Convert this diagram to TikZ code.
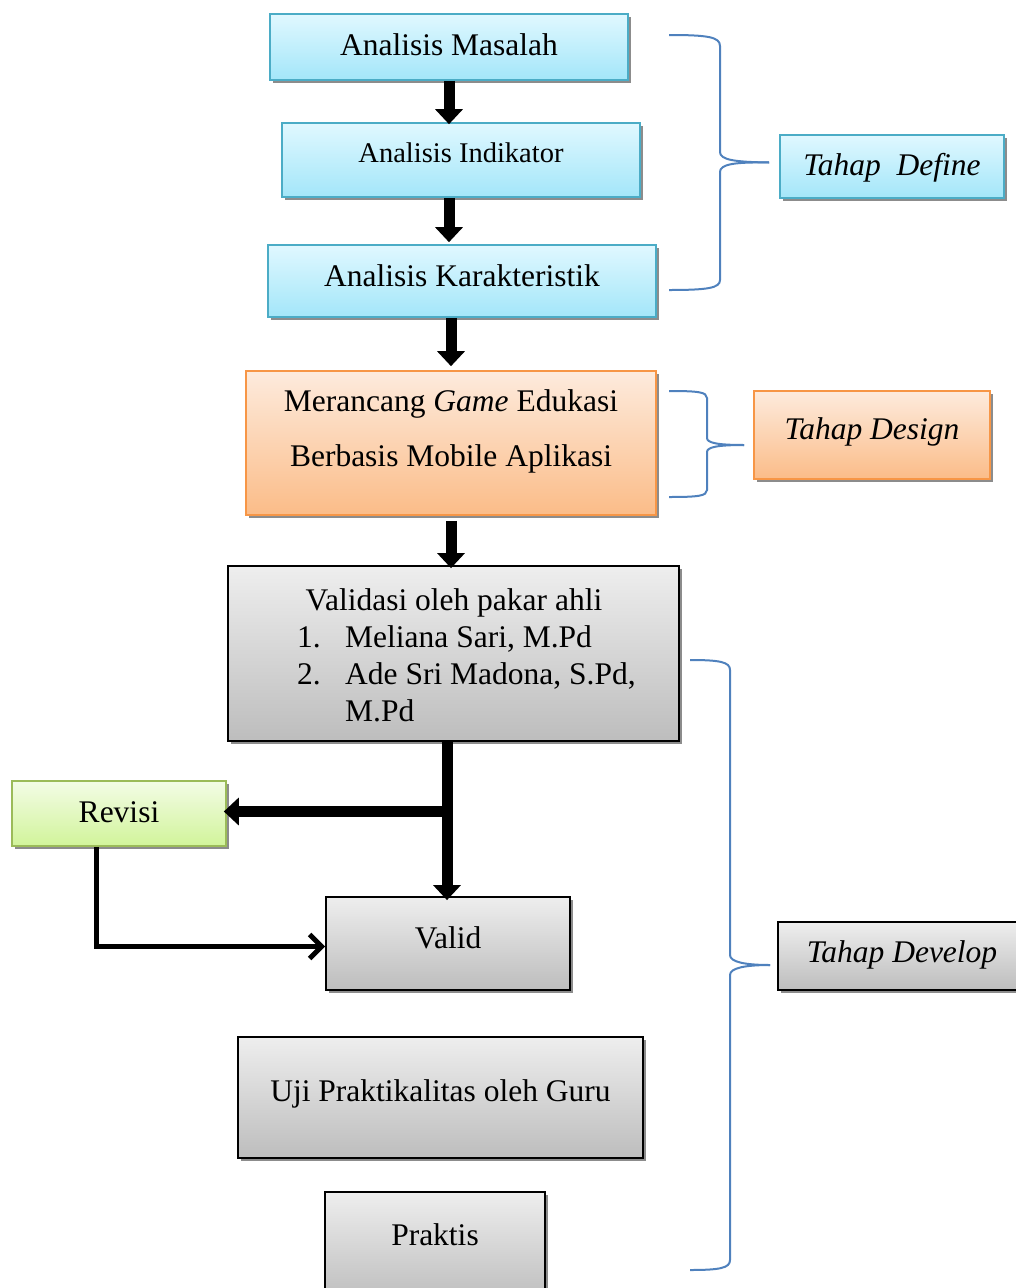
\documentclass[tikz,border=0pt]{standalone}
\usepackage{fontspec}
\setmainfont{Liberation Serif}
\usetikzlibrary{arrows.meta,shadows,calc}
\definecolor{cyantop}{HTML}{E0F8FF}
\definecolor{cyanbot}{HTML}{A3E6F9}
\definecolor{cyanb}{HTML}{4BACC6}
\definecolor{orgtop}{HTML}{FDEBDD}
\definecolor{orgbot}{HTML}{FBBC88}
\definecolor{orgb}{HTML}{F79646}
\definecolor{grntop}{HTML}{F3FCE6}
\definecolor{grnbot}{HTML}{D1F49A}
\definecolor{grnb}{HTML}{9BBB59}
\definecolor{grytop}{HTML}{EEEEEE}
\definecolor{grybot}{HTML}{BDBDBD}
\definecolor{bracec}{HTML}{4F81BD}
\tikzset{
  boxbase/.style={rectangle, inner sep=0pt, line width=1.6pt,
    drop shadow={shadow xshift=2.5pt, shadow yshift=-3pt, fill=black!45, opacity=1}},
  cbox/.style={boxbase, draw=cyanb, top color=cyantop, bottom color=cyanbot},
  obox/.style={boxbase, draw=orgb, top color=orgtop, bottom color=orgbot},
  gbox/.style={boxbase, draw=grnb, top color=grntop, bottom color=grnbot},
  ybox/.style={boxbase, draw=black, line width=1.8pt, top color=grytop, bottom color=grybot},
  txt/.style={anchor=base, inner sep=0pt, font=\fontsize{31.5}{38}\selectfont},
  bigarrow/.style={line width=11pt, -{Triangle[width=27pt,length=15pt]}},
  thinarrow/.style={line width=5pt, -{Straight Barb[width=24pt,length=12pt,line width=5pt]}},
  bracestyle/.style={draw=bracec, line width=2pt}
}
\begin{document}
\begin{tikzpicture}[x=1pt,y=-1pt]
\useasboundingbox (0,0) rectangle (1016,1288);
% main boxes
\node[cbox, minimum width=358pt, minimum height=66pt] (am) at (449,47) {};
\node[txt] (amt) at (449,55) {Analisis Masalah};
\node[cbox, minimum width=358pt, minimum height=74pt] (ai) at (461,160) {};
\node[txt, font=\fontsize{28.5}{34}\selectfont] (ait) at (461,162) {Analisis Indikator};
\node[cbox, minimum width=388pt, minimum height=72pt] (ak) at (462,281) {};
\node[txt] (akt) at (462,286) {Analisis Karakteristik};
\node[obox, minimum width=410pt, minimum height=144pt] (mg) at (451,443) {};
\node[txt] (mgt1) at (451,411) {Merancang \textit{Game} Edukasi};
\node[txt] (mgt2) at (451,466) {Berbasis Mobile Aplikasi};
\node[ybox, minimum width=451pt, minimum height=175pt] (vp) at (453.5,653.5) {};
\node[txt] (vpt) at (454,610) {Validasi oleh pakar ahli};
\node[txt, anchor=base west] (vpn1) at (297,647) {1.};
\node[txt, anchor=base west] (vpl1) at (345,647) {Meliana Sari, M.Pd};
\node[txt, anchor=base west] (vpn2) at (297,684) {2.};
\node[txt, anchor=base west] (vpl2) at (345,684) {Ade Sri Madona, S.Pd,};
\node[txt, anchor=base west] (vpl3) at (345,721) {M.Pd};
\node[gbox, minimum width=214pt, minimum height=65pt] (rv) at (119,813.5) {};
\node[txt] (rvt) at (119,822) {Revisi};
\node[ybox, minimum width=244pt, minimum height=93pt] (vd) at (448,943.5) {};
\node[txt] (vdt) at (448,948) {Valid};
\node[ybox, minimum width=405pt, minimum height=121pt] (uj) at (440.5,1097.5) {};
\node[txt] (ujt) at (440.5,1101) {Uji Praktikalitas oleh Guru};
\node[ybox, minimum width=220pt, minimum height=110pt] (pk) at (435,1247) {};
\node[txt] (pkt) at (435,1245) {Praktis};
% stage boxes
\node[cbox, minimum width=224pt, minimum height=63pt] (td) at (892,166.5) {};
\node[txt] (tdt) at (892,175) {\textit{Tahap\ \ Define}};
\node[obox, minimum width=236pt, minimum height=88pt] (tg) at (872,435) {};
\node[txt] (tgt) at (872,439) {\textit{Tahap Design}};
\node[ybox, minimum width=252pt, minimum height=68pt] (tv) at (904,956) {};
\node[txt] (tvt) at (902,962) {\textit{Tahap Develop}};
% arrows
\draw[bigarrow] (am.south) -- ($(am.south |- ai.north)+(0,2)$);
\draw[bigarrow] (am.south |- ai.south) -- ($(am.south |- ak.north)+(0,-2)$);
\draw[bigarrow] (mg.north |- ak.south) -- ($(mg.north)+(0,-4)$);
\draw[bigarrow] ($(mg.south)+(0,5)$) -- ($(mg.south |- vp.north)+(0,3)$);
\coordinate (vpout) at ($(vd.north |- vp.south)+(-1,0)$);
\draw[bigarrow] (vpout) -- ($(vpout |- vd.north)+(0,4)$);
\coordinate (junc) at ($(vpout |- rv.east)+(5,-2)$);
\draw[bigarrow] (junc) -- ($(rv.east)+(-3,-2)$);
\coordinate (rvout) at ($(rv.south west)!0.397!(rv.south east)$);
\draw[thinarrow] (rvout) |- ($(vd.west)+(0,3)$);
% braces
\coordinate (d1) at (669,35); \coordinate (d2) at (669,290); \coordinate (dt) at ($(td.west)+(-10,-4)$);
\draw[bracestyle] (d1) .. controls (708,35) and (720,37) .. (720,46) -- (720,152)
  .. controls (720,160) and (735,162) .. (dt);
\draw[bracestyle] (dt) .. controls (735,162) and (720,164) .. (720,172) -- (720,280)
  .. controls (720,288) and (708,290) .. (d2);
\coordinate (g1) at (669,391); \coordinate (g2) at (669,497); \coordinate (gt) at ($(tg.west)+(-9,10)$);
\draw[bracestyle] (g1) .. controls (698,391) and (707,392) .. (707,398) -- (707,438)
  .. controls (707,443) and (718,445) .. (gt);
\draw[bracestyle] (gt) .. controls (718,445) and (707,447) .. (707,452) -- (707,490)
  .. controls (707,496) and (698,497) .. (g2);
\coordinate (v1) at (690,660); \coordinate (v2) at (690,1270); \coordinate (vt) at ($(tv.west)+(-7,9)$);
\draw[bracestyle] (v1) .. controls (720,660) and (730,662) .. (730,670) -- (730,955)
  .. controls (730,962) and (745,965) .. (vt);
\draw[bracestyle] (vt) .. controls (745,965) and (730,968) .. (730,975) -- (730,1260)
  .. controls (730,1268) and (720,1270) .. (v2);
\end{tikzpicture}
\end{document}
